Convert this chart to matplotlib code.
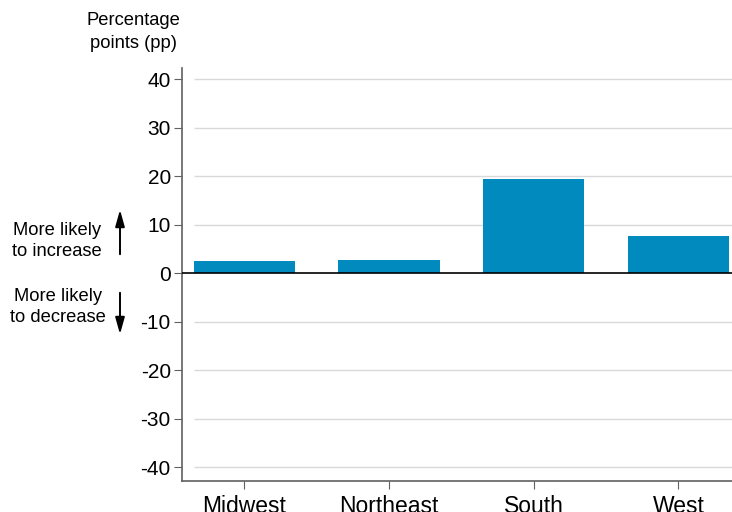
import numpy as np
import matplotlib
matplotlib.use("Agg")
import matplotlib.pyplot as plt

plt.rcParams['font.family'] = ['Liberation Sans', 'DejaVu Sans']

# data
regions = ["Midwest", "Northeast", "South", "West"]
change_pp = [2.5, 2.7, 19.4, 7.6]
yticks = [-40, -30, -20, -10, 0, 10, 20, 30, 40]

fig = plt.figure(figsize=(7.32, 5.12), dpi=100)
ax = fig.add_axes([0.2486, 0.0605, 0.7514, 0.8065])

x = np.arange(len(regions))
ax.set_xlim(-0.43, 3.37)
ax.set_ylim(-42.8, 42.3)

# light gridlines, starting at the first bar
for t in yticks:
    if t != 0:
        ax.hlines(t, -0.35, 3.37, color="#d9d9d9", lw=1, zorder=0)

ax.bar(x, change_pp, width=0.7, color="#008ABD", zorder=2)
ax.axhline(0, color="black", lw=1.2, zorder=3)

ax.set_yticks(yticks)
ax.set_yticklabels([str(t) for t in yticks], fontsize=15)
ax.set_xticks(x)
ax.set_xticklabels(regions, fontsize=16.5)

for s in ["top", "right"]:
    ax.spines[s].set_visible(False)
ax.spines["left"].set_color("#606060")
ax.spines["bottom"].set_color("#606060")
ax.spines["left"].set_linewidth(1.2)
ax.spines["bottom"].set_linewidth(1.2)
ax.tick_params(axis="y", direction="out", length=6, color="#606060", pad=2)
ax.tick_params(axis="x", direction="out", length=6, color="#606060", pad=4)

fig.text(133 / 732, 1 - 32 / 512, "Percentage\npoints (pp)", ha="center",
         va="center", fontsize=13.2, linespacing=1.5)

fig.text(57 / 732, 1 - 241 / 512, "More likely\nto increase", ha="center",
         va="center", fontsize=13.2, linespacing=1.38)
fig.text(58 / 732, 1 - 307 / 512, "More likely\nto decrease", ha="center",
         va="center", fontsize=13.2, linespacing=1.38)

style = "-|>,head_length=10,head_width=2.8"
fig.add_artist(matplotlib.patches.FancyArrowPatch(
    (120 / 732, 1 - 257 / 512), (120 / 732, 1 - 207 / 512),
    transform=fig.transFigure, arrowstyle=style,
    color="black", lw=1.4, mutation_scale=1))
fig.add_artist(matplotlib.patches.FancyArrowPatch(
    (120 / 732, 1 - 290 / 512), (120 / 732, 1 - 337 / 512),
    transform=fig.transFigure, arrowstyle=style,
    color="black", lw=1.4, mutation_scale=1))

fig.savefig("out.png", dpi=100)
